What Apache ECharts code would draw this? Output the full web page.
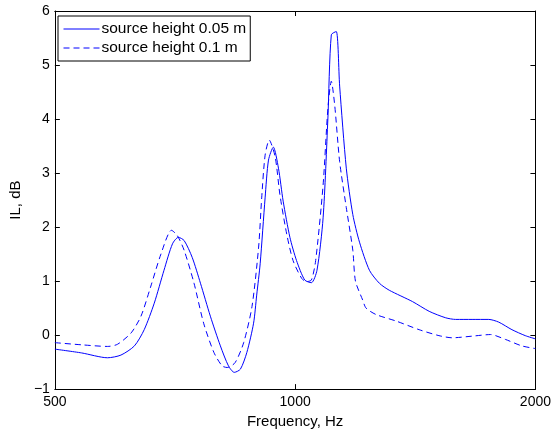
<!DOCTYPE html>
<html>
<head>
<meta charset="utf-8">
<script src="https://cdn.jsdelivr.net/npm/echarts@6/dist/echarts.min.js"></script>
<style>
html,body{margin:0;padding:0;background:#fff;}
#chart{width:554px;height:434px;}
</style>
</head>
<body>
<div id="chart"></div>
<script>
// Frequency (Hz) and IL (dB)
var freqSolid = [500,540,582,605,629,647,666,685,702,714,726,743,761,783,806,825,839,854,870,887,895,904,917,926,939,953,966,985,1004,1028,1048,1065,1084,1099,1110,1126,1137,1159,1181,1204,1239,1275,1312,1403,1472,1544,1589,1666,1748,1799,1869,1942,2000];
var ilSolid   = [-0.26,-0.33,-0.42,-0.37,-0.20,0.10,0.59,1.20,1.69,1.81,1.75,1.44,0.96,0.35,-0.20,-0.57,-0.69,-0.63,-0.32,0.22,0.74,1.32,2.54,3.24,3.48,3.09,2.48,1.81,1.38,1.02,0.97,1.20,2.17,4.00,5.56,5.62,4.61,3.09,2.23,1.72,1.20,0.96,0.83,0.62,0.44,0.32,0.29,0.29,0.29,0.24,0.10,-0.01,-0.07];

var freqDashed = [500,540,582,599,623,641,659,679,700,712,726,747,768,791,810,822,841,862,883,900,908,917,928,944,957,976,994,1019,1033,1048,1061,1084,1099,1110,1121,1137,1159,1181,1190,1215,1227,1263,1338,1430,1514,1573,1666,1757,1834,1923,2000];
var ilDashed   = [-0.14,-0.18,-0.21,-0.17,0.04,0.35,0.89,1.50,1.94,1.84,1.57,0.96,0.22,-0.32,-0.57,-0.60,-0.51,-0.14,0.53,1.63,2.54,3.33,3.61,3.30,2.60,1.87,1.38,1.05,0.99,1.02,1.38,2.78,4.19,4.70,4.25,3.21,2.36,1.57,1.00,0.65,0.50,0.38,0.26,0.10,-0.01,-0.05,-0.02,0.01,-0.08,-0.20,-0.25];

var xTickValues = [500, 1000, 2000];
var seriesNames = ['source height 0.05 m', 'source height 0.1 m'];

var baseFreq = xTickValues[0];
function toAxis(f){ return Math.log(f / baseFreq) / Math.LN2; }
function pairs(fs, vs){ return fs.map(function(f,i){ return [toAxis(f), vs[i]]; }); }

var fontFamily = 'Liberation Sans, Arial, Helvetica, sans-serif';
var chart = echarts.init(document.getElementById('chart'), null, {renderer:'canvas'});

function xAx(pos, show){
  return {
    type:'value', position:pos, min:0, max:toAxis(xTickValues[xTickValues.length-1]), interval:1,
    axisLine:{show:true, onZero:false, lineStyle:{color:'#000', width:1}},
    axisTick:{show:true, inside:true, length:5, lineStyle:{color:'#000'}},
    axisLabel:{show:show, color:'#000', fontSize:14, fontFamily:fontFamily, margin:6,
      formatter:function(v){ return String(Math.round(baseFreq*Math.pow(2,v))); }},
    splitLine:{show:false},
    name: show ? 'Frequency, Hz' : '', nameLocation:'middle', nameGap:19,
    nameTextStyle:{color:'#000', fontSize:15, fontFamily:fontFamily}
  };
}
function yAx(pos, show){
  return {
    type:'value', position:pos, min:-1, max:6, interval:1,
    axisLine:{show:true, onZero:false, lineStyle:{color:'#000', width:1}},
    axisTick:{show:true, inside:true, length:5, lineStyle:{color:'#000'}},
    axisLabel:{show:show, color:'#000', fontSize:14, fontFamily:fontFamily, margin:5,
      formatter:function(v){ return String(v).replace('-', '\u2212'); }},
    splitLine:{show:false},
    name: show ? 'IL, dB' : '', nameLocation:'middle', nameGap:22, nameRotate:90,
    nameTextStyle:{color:'#000', fontSize:15, fontFamily:fontFamily}
  };
}

chart.setOption({
  animation:false,
  backgroundColor:'#fff',
  grid:{left:54, right:17, top:11, bottom:40, containLabel:false},
  xAxis:[xAx('bottom', true), xAx('top', false)],
  yAxis:[yAx('left', true), yAx('right', false)],
  legend:{
    orient:'vertical', left:58, top:16,
    data:seriesNames,
    backgroundColor:'#fff', borderColor:'#000', borderWidth:1, borderRadius:0,
    padding:[5,4,5,5], itemGap:3, itemWidth:36, itemHeight:14,
    itemStyle:{opacity:0},
    lineStyle:{width:1},
    textStyle:{color:'#000', fontSize:15.5, fontFamily:fontFamily, padding:[0,0,0,-3]}
  },
  series:[
    {name:seriesNames[0], type:'line', xAxisIndex:0, yAxisIndex:0, data:pairs(freqSolid, ilSolid),
     symbol:'none', smooth:0.25, color:'#0000ff', lineStyle:{color:'#0000ff', width:1, type:'solid'}},
    {name:seriesNames[1], type:'line', xAxisIndex:0, yAxisIndex:0, data:pairs(freqDashed, ilDashed),
     symbol:'none', smooth:0.25, color:'#0000ff', lineStyle:{color:'#0000ff', width:1, type:[6,4]}}
  ]
});
</script>
</body>
</html>
